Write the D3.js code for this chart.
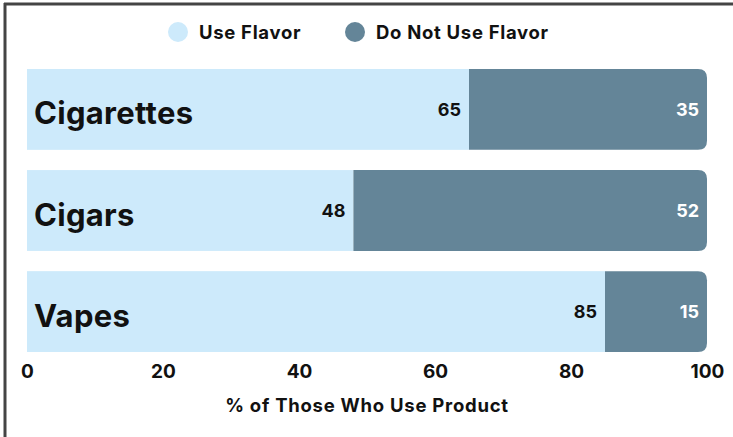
<!DOCTYPE html>
<html><head><meta charset="utf-8">
<script src="https://cdn.jsdelivr.net/npm/d3@7"></script>
<style>
html,body{margin:0;padding:0;background:#fff;}
svg{display:block;font-family:Inter,"Open Sans",sans-serif;}
</style></head>
<body>
<svg id="chart" width="733" height="437"></svg>
<script>
const categories = ["Cigarettes", "Cigars", "Vapes"];
const useFlavor = [65, 48, 85];
const noFlavor = [35, 52, 15];
const seriesNames = ["Use Flavor", "Do Not Use Flavor"];
const xTicks = [0, 20, 40, 60, 80, 100];
const axisTitle = "% of Those Who Use Product";

const colors = ["#CDEAFB", "#648598"];
const svg = d3.select("#chart");

// frame (top + left)
svg.append("line").attr("x1",4).attr("x2",733).attr("y1",4).attr("y2",4).attr("stroke","#444").attr("stroke-width",3);
svg.append("line").attr("x1",5).attr("x2",5).attr("y1",3).attr("y2",437).attr("stroke","#444").attr("stroke-width",3);

const x = d3.scaleLinear().domain([0,100]).range([27,707]);
const y = d3.scaleBand().domain(categories).range([69,352]).paddingInner(0.2).paddingOuter(0);
const bw = y.bandwidth();

function rightRounded(x0, x1, y0, h, r){
  return `M${x0},${y0}H${x1-r}Q${x1},${y0} ${x1},${y0+r}V${y0+h-r}Q${x1},${y0+h} ${x1-r},${y0+h}H${x0}Z`;
}

const rows = categories.map((c,i)=>({cat:c, a:useFlavor[i], b:noFlavor[i]}));
const g = svg.append("g");
rows.forEach(d=>{
  const y0 = y(d.cat);
  g.append("rect").attr("x",x(0)).attr("y",y0).attr("width",x(d.a)-x(0)).attr("height",bw).attr("fill",colors[0]);
  g.append("path").attr("d", rightRounded(x(d.a), x(d.a+d.b), y0, bw, 9)).attr("fill",colors[1]);
  g.append("text").attr("x",34).attr("y",y0+bw/2+15).text(d.cat)
    .attr("font-size",31).attr("font-weight",700).attr("letter-spacing",0.3).attr("fill","#111");
  g.append("text").attr("x",x(d.a)-8).attr("y",y0+bw/2).attr("dy","0.36em").attr("text-anchor","end")
    .text(d.a).attr("font-size",18).attr("font-weight",700).attr("fill","#111");
  g.append("text").attr("x",x(d.a+d.b)-8).attr("y",y0+bw/2).attr("dy","0.36em").attr("text-anchor","end")
    .text(d.b).attr("font-size",18).attr("font-weight",700).attr("fill","#fff");
});

// x axis
const ax = svg.append("g").attr("transform","translate(0,352)")
  .call(d3.axisBottom(x).tickValues(xTicks).tickSize(0).tickPadding(13));
ax.select(".domain").remove();
ax.selectAll("text").attr("font-size",19).attr("font-weight",700).attr("fill","#111").attr("font-family","Inter,sans-serif");

svg.append("text").attr("x",367).attr("y",412).attr("text-anchor","middle").text(axisTitle)
  .attr("font-size",18.5).attr("letter-spacing",0.75).attr("font-weight",700).attr("fill","#111");

// legend
const legX = [178, 355];
seriesNames.forEach((n,i)=>{
  svg.append("circle").attr("cx",legX[i]).attr("cy",32).attr("r",10).attr("fill",colors[i]);
  svg.append("text").attr("x",legX[i]+21).attr("y",32).attr("dy","0.36em").text(n)
    .attr("font-size",18.5).attr("letter-spacing",0.7).attr("font-weight",700).attr("fill","#111");
});
</script>
</body></html>
